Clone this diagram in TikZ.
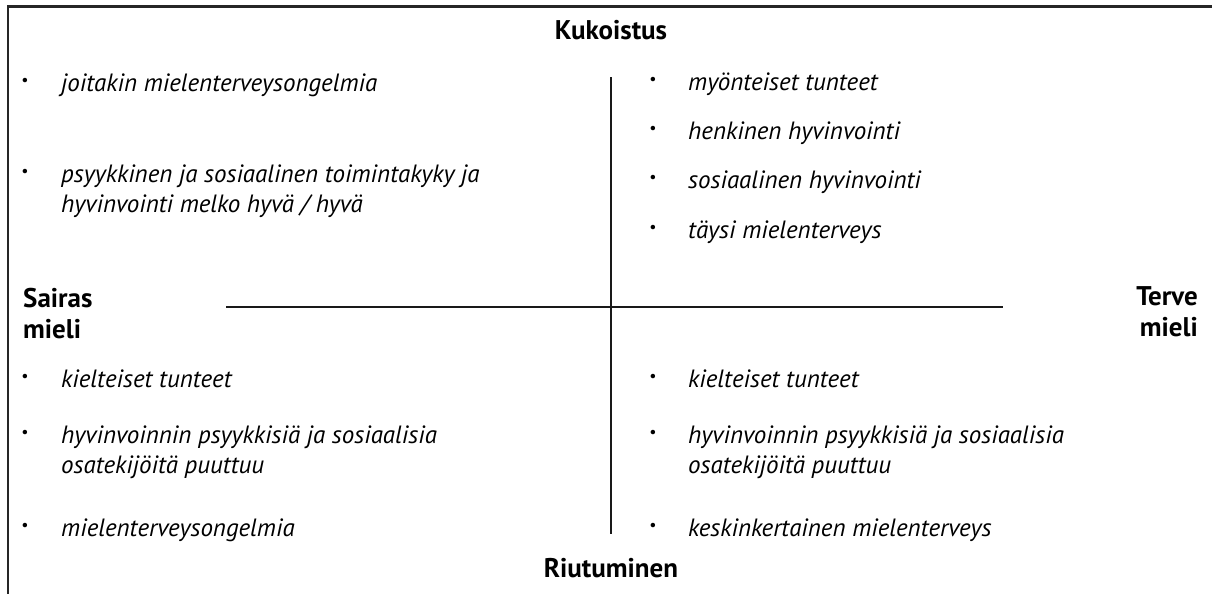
\documentclass[tikz,border=0pt]{standalone}
\usepackage{fontspec}
\setmainfont{PT Sans}
\begin{document}
\begin{tikzpicture}[x=1pt,y=-1pt,
  item/.style={anchor=base west,inner sep=0pt,font=\fontsize{25}{30}\selectfont\itshape,align=left},
  dot/.style={anchor=center,inner sep=0pt,font=\fontsize{16}{16}\selectfont},
  head/.style={inner sep=0pt,font=\fontsize{27}{31}\selectfont\bfseries},
  axis/.style={line width=2pt,draw=black!90}]
\useasboundingbox (0,0) rectangle (1212,594);
\draw[line width=2.2pt,draw=black!85] (1212,6.5) coordinate (tr) -- (8,6.5) coordinate (tl) -- (8,594) coordinate (bl);
% axes
\coordinate (vt) at (611,77); \coordinate (vb) at (611,534);
\coordinate (hl) at (226,307); \coordinate (hr) at (1003,307);
\draw[axis] (vt) -- (vb);
\draw[axis] (hl) -- (hr);
% headings (multi-line nodes: base = baseline of last line)
\node[head,anchor=base] (kuk) at (611,40) {Kukoistus};
\node[head,anchor=base] (riu) at (611,577) {Riutuminen};
\node[head,anchor=base west,align=left] (sai) at (23,338) {Sairas\\mieli};
\node[head,anchor=base east,align=right] (ter) at (1198,336) {Terve\\mieli};
% top left
\node[dot] (b1) at (25,82) {•}; \node[item] (t1) at (61,91) {joitakin mielenterveysongelmia};
\node[dot] (b2) at (25,173) {•}; \node[item] (t2) at (61,212) {psyykkinen ja sosiaalinen toimintakyky ja\\hyvinvointi melko hyvä / hyvä};
% top right
\node[dot] (b3) at (653,81) {•}; \node[item] (t3) at (688,90) {myönteiset tunteet};
\node[dot] (b4) at (653,130) {•}; \node[item] (t4) at (688,139) {henkinen hyvinvointi};
\node[dot] (b5) at (653,179) {•}; \node[item] (t5) at (688,188) {sosiaalinen hyvinvointi};
\node[dot] (b6) at (653,229) {•}; \node[item] (t6) at (688,238) {täysi mielenterveys};
% bottom left
\node[dot] (b7) at (25,378) {•}; \node[item] (t7) at (61,387) {kielteiset tunteet};
\node[dot] (b8) at (25,434) {•}; \node[item] (t8) at (61,473) {hyvinvoinnin psyykkisiä ja sosiaalisia\\osatekijöitä puuttuu};
\node[dot] (b9) at (25,527) {•}; \node[item] (t9) at (61,536) {mielenterveysongelmia};
% bottom right
\node[dot] (b10) at (653,378) {•}; \node[item] (t10) at (688,387) {kielteiset tunteet};
\node[dot] (b11) at (653,434) {•}; \node[item] (t11) at (688,473) {hyvinvoinnin psyykkisiä ja sosiaalisia\\osatekijöitä puuttuu};
\node[dot] (b12) at (653,527) {•}; \node[item] (t12) at (688,536) {keskinkertainen mielenterveys};
\end{tikzpicture}
\end{document}
